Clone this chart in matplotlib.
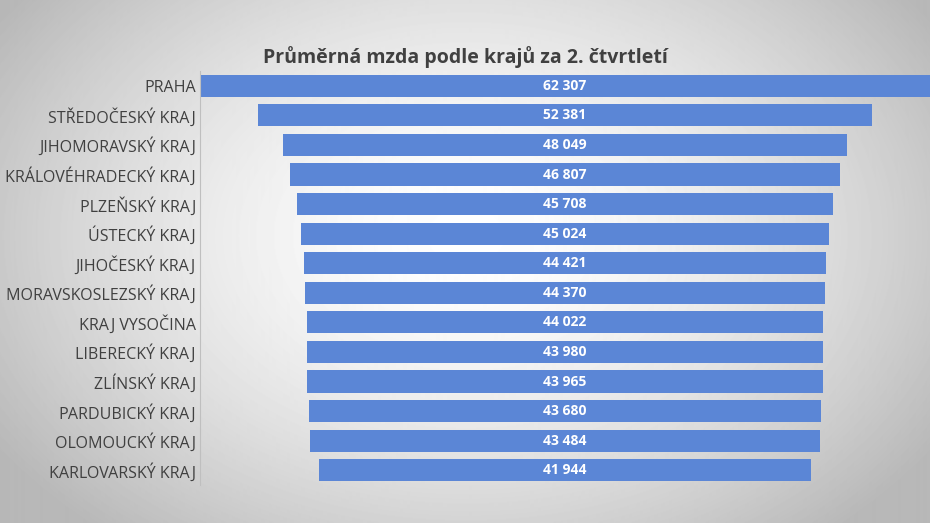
import numpy as np
import matplotlib
matplotlib.use("Agg")
import matplotlib.pyplot as plt

regions = ["PRAHA", "STŘEDOČESKÝ KRAJ", "JIHOMORAVSKÝ KRAJ", "KRÁLOVÉHRADECKÝ KRAJ",
           "PLZEŇSKÝ KRAJ", "ÚSTECKÝ KRAJ", "JIHOČESKÝ KRAJ", "MORAVSKOSLEZSKÝ KRAJ",
           "KRAJ VYSOČINA", "LIBERECKÝ KRAJ", "ZLÍNSKÝ KRAJ", "PARDUBICKÝ KRAJ",
           "OLOMOUCKÝ KRAJ", "KARLOVARSKÝ KRAJ"]
wages = [62307, 52381, 48049, 46807, 45708, 45024, 44421, 44370,
         44022, 43980, 43965, 43680, 43484, 41944]

W, H = 930, 523
fig = plt.figure(figsize=(W/100, H/100), dpi=100)

# radial gradient background
bg = fig.add_axes([0, 0, 1, 1])
yy, xx = np.mgrid[0:H, 0:W]
r = np.sqrt(((xx - W/2)/(W*0.6))**2 + ((yy - H*0.45)/(H*0.75))**2)
val = np.clip(1.0 - 0.28*r**1.6, 0.72, 1.0)
bg.imshow(val, cmap="gray", vmin=0, vmax=1, aspect="auto", extent=[0, 1, 0, 1])
bg.axis("off")

ax = fig.add_axes([200/W, 1-485/H, 730/W, (485-71)/H])
ax.patch.set_alpha(0)
half = (730/0.01174)/2
y = np.arange(len(regions))
ax.barh(y, wages, left=[-v/2 for v in wages], height=0.75, color="#5B86D6")
for yi, v in zip(y, wages):
    ax.text(0, yi, f"{v:,}".replace(",", " "), ha="center", va="center",
            color="white", fontsize=10, fontweight="bold", family="Open Sans")
ax.set_xlim(-half, half)
ax.set_ylim(len(regions)-0.5, -0.5)
ax.set_yticks(y)
ax.set_yticklabels(regions, fontsize=11.5, color="#404040", family="Open Sans")
ax.tick_params(axis="y", length=0, pad=3)
ax.set_xticks([])
for s in ["top", "right", "bottom"]:
    ax.spines[s].set_visible(False)
ax.spines["left"].set_color("#BFBFBF")

fig.text(465/W, 1-57/H, "Průměrná mzda podle krajů za 2. čtvrtletí", ha="center", va="center",
         fontsize=14, fontweight="bold", color="#404040", family="Open Sans")
fig.savefig("out.png", dpi=100)
